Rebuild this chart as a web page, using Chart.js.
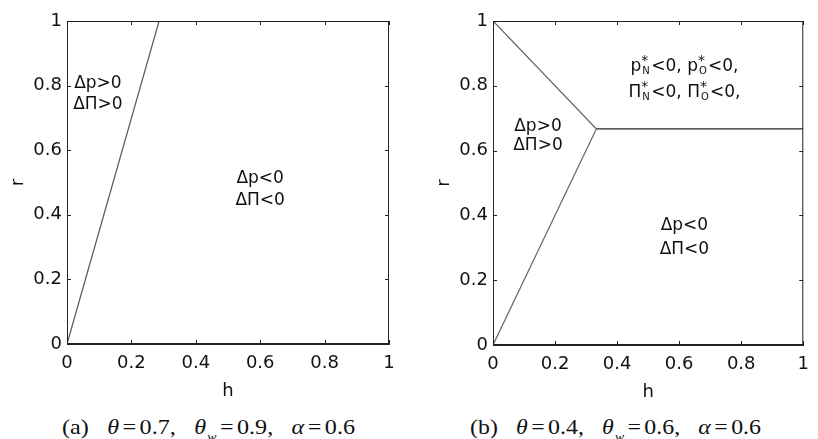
<!DOCTYPE html>
<html>
<head>
<meta charset="utf-8">
<script src="https://cdn.jsdelivr.net/npm/chart.js@4/dist/chart.umd.min.js"></script>
<style>
  html, body { margin: 0; padding: 0; background: #fff; }
  #page { position: relative; width: 818px; height: 439px; overflow: hidden; background: #fff; }
  .panel { position: absolute; top: 0; }
  .note { position: absolute; transform: translate(-50%, -50%); white-space: nowrap;
          font-family: "DejaVu Sans", sans-serif; font-size: 17px; color: #111; line-height: 1; }
  .ss { display: inline-block; position: relative; width: 10px; height: 1em; vertical-align: baseline; }
  .ss .up { position: absolute; left: 0; top: -1px; font-size: 14px; }
  .ss .dn { position: absolute; left: 1px; bottom: -5px; font-size: 10px; }
  .cap { position: absolute; top: 427px; white-space: nowrap; transform-origin: 0 50%;
         font-family: "Liberation Serif", "Times New Roman", serif; font-size: 21px; color: #111; line-height: 30px; margin-top: -15px; }
  .cap i { font-style: italic; }
  .cap .w { display: inline-block; font-size: 12px; font-style: italic; transform: translateY(7px); margin-left: 1px; }
  .cap .eq { margin: 0 3px; }
  .gap { display: inline-block; width: 16px; }
</style>
</head>
<body>
<div id="page">
  <div class="panel" id="panelA" style="left:0px;width:409px;height:400px"><canvas id="chartA"></canvas></div>
  <div class="panel" id="panelB" style="left:426px;width:392px;height:400px"><canvas id="chartB"></canvas></div>
  <div class="cap" id="capA">(a)<span class="gap"></span><i>θ</i><span class="eq">=</span>0.7,<span class="gap"></span><i>θ</i><span class="w">w</span><span class="eq">=</span>0.9,<span class="gap"></span><i>α</i><span class="eq">=</span>0.6</div>
  <div class="cap" id="capB">(b)<span class="gap"></span><i>θ</i><span class="eq">=</span>0.4,<span class="gap"></span><i>θ</i><span class="w">w</span><span class="eq">=</span>0.6,<span class="gap"></span><i>α</i><span class="eq">=</span>0.6</div>
</div>
<script>
// axis ticks (both panels)
const tickValues = [0, 0.2, 0.4, 0.6, 0.8, 1];
const tickLabels = ["0", "0.2", "0.4", "0.6", "0.8", "1"];

// panel (a): boundary line
const aLineH = [0, 0.286];
const aLineR = [0, 1];

// panel (b): three boundary lines meeting at (1/3, 2/3)
const bUpperH = [0, 0.333];
const bUpperR = [1, 0.667];
const bLowerH = [0, 0.333];
const bLowerR = [0, 0.667];
const bFlatH = [0.333, 1];
const bFlatR = [0.667, 0.667];

// region labels: [h, r, html]
const aNotes = [
  [0.096, 0.81, "Δp&gt;0"],
  [0.096, 0.745, "ΔΠ&gt;0"],
  [0.60, 0.517, "Δp&lt;0"],
  [0.60, 0.449, "ΔΠ&lt;0"]
];
const star = (s) => `<span class="ss"><span class="up">*</span><span class="dn">${s}</span></span>`;
const bNotes = [
  [0.145, 0.68, "Δp&gt;0"],
  [0.145, 0.62, "ΔΠ&gt;0"],
  [0.617, 0.867, `p${star("N")}&lt;0, p${star("O")}&lt;0,`],
  [0.617, 0.787, `Π${star("N")}&lt;0, Π${star("O")}&lt;0,`],
  [0.617, 0.373, "Δp&lt;0"],
  [0.617, 0.30, "ΔΠ&lt;0"]
];

Chart.defaults.font.family = "DejaVu Sans";
Chart.defaults.font.size = 18;
Chart.defaults.color = "#111";

const pts = (hs, rs) => hs.map((h, i) => ({ x: h, y: rs[i] }));

// box + inward tick marks on all four sides
const boxTicks = {
  id: "boxTicks",
  afterDatasetsDraw(chart) {
    const c = chart.ctx, a = chart.chartArea, sx = chart.scales.x, sy = chart.scales.y;
    c.save();
    c.strokeStyle = "#222";
    c.lineWidth = 1;
    c.strokeRect(a.left + 0.5, a.top + 0.5, a.right - a.left - 1, a.bottom - a.top - 1);
    c.beginPath();
    tickValues.forEach(v => {
      const px = Math.round(sx.getPixelForValue(v)) + 0.5;
      c.moveTo(px, a.bottom); c.lineTo(px, a.bottom - 4);
      c.moveTo(px, a.top); c.lineTo(px, a.top + 4);
      const py = Math.round(sy.getPixelForValue(v)) + 0.5;
      c.moveTo(a.left, py); c.lineTo(a.left + 4, py);
      c.moveTo(a.right, py); c.lineTo(a.right - 4, py);
    });
    c.stroke();
    c.restore();
  }
};

function axis(title, isY) {
  return {
    type: "linear", min: 0, max: 1,
    grid: { display: false, drawTicks: false },
    border: { display: true, color: "#222", width: 1 },
    ticks: {
      stepSize: 0.2, padding: isY ? 5 : 9,
      callback: (v) => { const i = tickValues.findIndex(t => Math.abs(t - v) < 1e-6); return i < 0 ? "" : tickLabels[i]; }
    },
    title: { display: true, text: title, padding: isY ? { top: 8, bottom: 0 } : { top: 0, bottom: 0 }, font: { size: 18 } },
    afterFit: (s) => { if (isY) s.width = 67; else s.height = 58; }
  };
}

function makeChart(id, datasets, rightPad, notes, panel) {
  const chart = new Chart(document.getElementById(id), {
    type: "scatter",
    data: { datasets },
    options: {
      responsive: false, animation: false, maintainAspectRatio: false,
      layout: { padding: { left: 0, top: 21, right: rightPad, bottom: 0 } },
      plugins: { legend: { display: false }, tooltip: { enabled: false } },
      elements: { point: { radius: 0 } },
      scales: { x: axis("h", false), y: axis("r", true) }
    },
    plugins: [boxTicks]
  });
  const host = document.getElementById(panel);
  notes.forEach(([h, r, html]) => {
    const d = document.createElement("div");
    d.className = "note";
    d.innerHTML = html;
    d.style.left = chart.scales.x.getPixelForValue(h) + "px";
    d.style.top = chart.scales.y.getPixelForValue(r) + "px";
    host.appendChild(d);
  });
  return chart;
}

const cA = document.getElementById("chartA"); cA.width = 409; cA.height = 402;
const cB = document.getElementById("chartB"); cB.width = 392; cB.height = 403;

const line = (hs, rs, color) => ({ data: pts(hs, rs), showLine: true, borderColor: color, borderWidth: 1.2, pointRadius: 0, fill: false });

makeChart("chartA", [line(aLineH, aLineR, "#555")], 20, aNotes, "panelA");
makeChart("chartB", [
  line(bUpperH, bUpperR, "#555"),
  line(bLowerH, bLowerR, "#666"),
  line(bFlatH, bFlatR, "#222")
], 1, bNotes, "panelB");

// stretch captions to the width they span in the figure
function fitCaption(id, left, width) {
  const el = document.getElementById(id);
  const w = el.getBoundingClientRect().width;
  el.style.left = left + "px";
  el.style.transform = `scaleX(${width / w})`;
}
fitCaption("capA", 62, 293);
fitCaption("capB", 470, 291);
</script>
</body>
</html>
